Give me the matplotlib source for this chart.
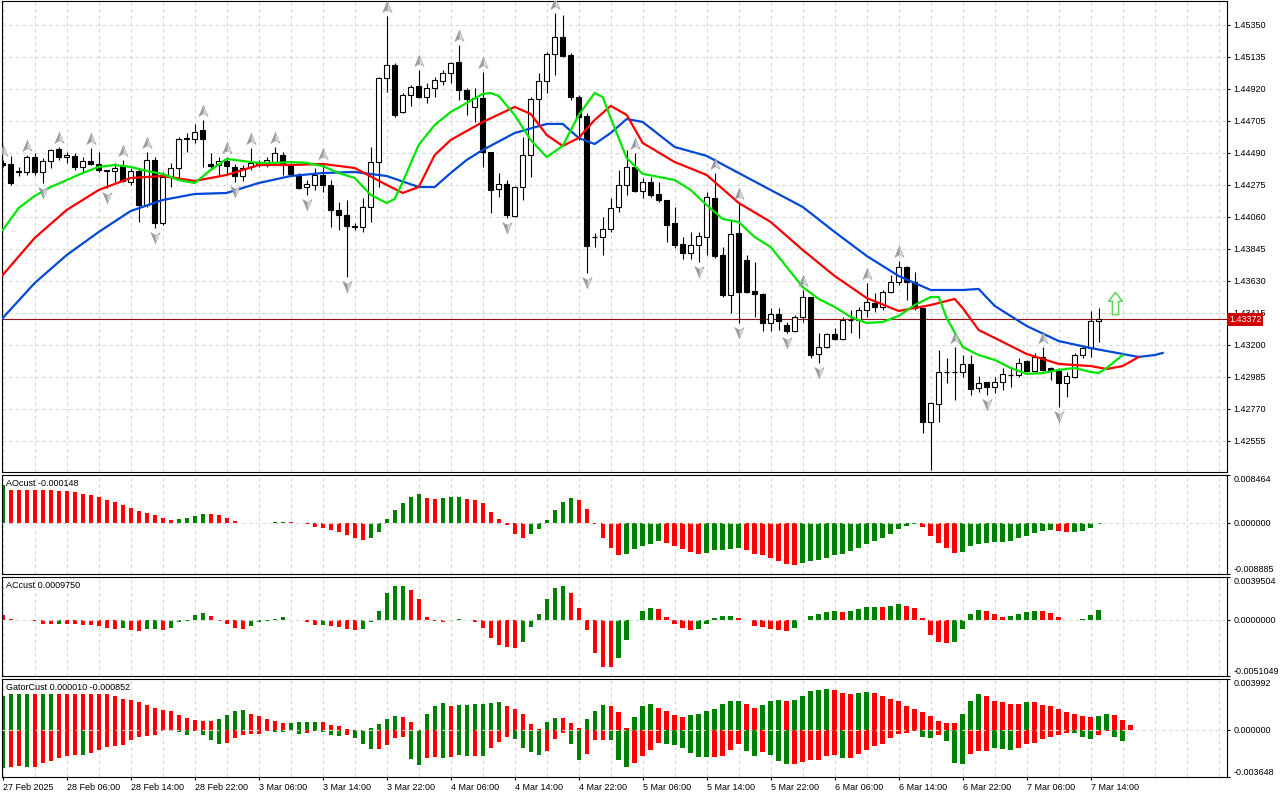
import numpy as np
import matplotlib
matplotlib.use('Agg')
import matplotlib.pyplot as plt
from matplotlib.path import Path
from matplotlib.ticker import MultipleLocator
from matplotlib.transforms import blended_transform_factory

plt.rcParams['font.family'] = ['Liberation Sans', 'DejaVu Sans']
plt.rcParams['font.size'] = 6.5

# H1 candles, 27 Feb 22:00 -> 7 Mar 15:00
opens = [1.44423, 1.44416, 1.44369, 1.44362, 1.44463, 1.44362, 1.44436, 1.44517, 1.44463, 1.44470,
         1.44396, 1.44436, 1.44416, 1.44376, 1.44369, 1.44402, 1.44295, 1.44369, 1.44140, 1.44443,
         1.44019, 1.44329, 1.44389, 1.44584, 1.44584, 1.44644, 1.44416, 1.44409, 1.44436, 1.44396,
         1.44335, 1.44396, 1.44429, 1.44409, 1.44429, 1.44476, 1.44409, 1.44342, 1.44261, 1.44275,
         1.44342, 1.44275, 1.44107, 1.44073, 1.43999, 1.43993, 1.44127, 1.44429, 1.44994, 1.45081,
         1.44765, 1.44880, 1.44940, 1.44866, 1.44927, 1.44974, 1.45027, 1.45101, 1.44913, 1.44799,
         1.44859, 1.44497, 1.44248, 1.44282, 1.44067, 1.44261, 1.44476, 1.44853, 1.44974, 1.45155,
         1.45269, 1.45148, 1.44866, 1.44738, 1.43925, 1.43925, 1.43979, 1.44127, 1.44275, 1.44396,
         1.44235, 1.44295, 1.44214, 1.44174, 1.44019, 1.43878, 1.43818, 1.43872, 1.43925, 1.44187,
         1.43804, 1.43536, 1.43952, 1.43771, 1.43562, 1.43542, 1.43347, 1.43408, 1.43334, 1.43294,
         1.43388, 1.43522, 1.43139, 1.43186, 1.43273, 1.43240, 1.43368, 1.43368, 1.43435, 1.43482,
         1.43455, 1.43556, 1.43623, 1.43724, 1.43623, 1.43448, 1.42682, 1.42803, 1.43018, 1.43018,
         1.43018, 1.43072, 1.42911, 1.42951, 1.42917, 1.42951, 1.42998, 1.42998, 1.43092, 1.43025,
         1.43119, 1.43045, 1.43025, 1.42944, 1.42985, 1.43132, 1.43179, 1.43361]
highs = [1.44443, 1.44470, 1.44396, 1.44476, 1.44490, 1.44456, 1.44517, 1.44530, 1.44497, 1.44490,
         1.44463, 1.44523, 1.44497, 1.44376, 1.44423, 1.44443, 1.44389, 1.44389, 1.44497, 1.44463,
         1.44362, 1.44423, 1.44597, 1.44624, 1.44685, 1.44712, 1.44490, 1.44463, 1.44463, 1.44416,
         1.44409, 1.44523, 1.44443, 1.44463, 1.44530, 1.44497, 1.44423, 1.44355, 1.44308, 1.44389,
         1.44423, 1.44308, 1.44161, 1.44174, 1.44019, 1.44187, 1.44530, 1.45001, 1.45410, 1.45095,
         1.44893, 1.44947, 1.45048, 1.44960, 1.45001, 1.45048, 1.45101, 1.45216, 1.44927, 1.44927,
         1.45034, 1.44497, 1.44355, 1.44308, 1.44268, 1.44597, 1.44866, 1.45027, 1.45169, 1.45431,
         1.45417, 1.45162, 1.44880, 1.44759, 1.43952, 1.44060, 1.44187, 1.44376, 1.44510, 1.44490,
         1.44322, 1.44329, 1.44295, 1.44174, 1.44127, 1.43925, 1.43959, 1.43959, 1.44228, 1.44355,
         1.43858, 1.44040, 1.44154, 1.43804, 1.43757, 1.43549, 1.43448, 1.43448, 1.43354, 1.43401,
         1.43569, 1.43522, 1.43280, 1.43280, 1.43314, 1.43388, 1.43435, 1.43455, 1.43616, 1.43549,
         1.43569, 1.43670, 1.43764, 1.43730, 1.43690, 1.43448, 1.42817, 1.43166, 1.43112, 1.43186,
         1.43132, 1.43132, 1.42991, 1.42951, 1.42985, 1.43045, 1.43052, 1.43112, 1.43099, 1.43146,
         1.43186, 1.43052, 1.43045, 1.43018, 1.43146, 1.43193, 1.43428, 1.43448]
lows = [1.44396, 1.44275, 1.44335, 1.44342, 1.44342, 1.44288, 1.44389, 1.44443, 1.44423, 1.44376,
        1.44362, 1.44409, 1.44362, 1.44255, 1.44295, 1.44295, 1.44275, 1.44026, 1.44127, 1.43986,
        1.44006, 1.44261, 1.44329, 1.44497, 1.44557, 1.44396, 1.44376, 1.44342, 1.44342, 1.44295,
        1.44302, 1.44376, 1.44396, 1.44396, 1.44409, 1.44342, 1.44342, 1.44248, 1.44208, 1.44241,
        1.44228, 1.43993, 1.43972, 1.43657, 1.43972, 1.43959, 1.44026, 1.44261, 1.44900, 1.44732,
        1.44759, 1.44806, 1.44859, 1.44826, 1.44866, 1.44947, 1.44960, 1.44846, 1.44745, 1.44698,
        1.44396, 1.44087, 1.44194, 1.44053, 1.44060, 1.44174, 1.44329, 1.44691, 1.44893, 1.45014,
        1.45135, 1.44846, 1.44577, 1.43683, 1.43858, 1.43804, 1.43959, 1.44093, 1.44208, 1.44228,
        1.44187, 1.44194, 1.44161, 1.43892, 1.43851, 1.43778, 1.43778, 1.43757, 1.43804, 1.43784,
        1.43522, 1.43415, 1.43347, 1.43549, 1.43388, 1.43294, 1.43294, 1.43300, 1.43280, 1.43287,
        1.43354, 1.43112, 1.43079, 1.43179, 1.43233, 1.43233, 1.43280, 1.43247, 1.43388, 1.43421,
        1.43435, 1.43549, 1.43603, 1.43502, 1.43435, 1.42608, 1.42360, 1.42682, 1.42944, 1.42830,
        1.42985, 1.42864, 1.42884, 1.42864, 1.42877, 1.42897, 1.42917, 1.42985, 1.43018, 1.43018,
        1.43025, 1.42964, 1.42783, 1.42850, 1.42978, 1.43112, 1.43119, 1.43220]
closes = [1.44409, 1.44288, 1.44362, 1.44463, 1.44362, 1.44436, 1.44510, 1.44463, 1.44476, 1.44396,
          1.44436, 1.44416, 1.44376, 1.44369, 1.44389, 1.44302, 1.44369, 1.44140, 1.44443, 1.44019,
          1.44329, 1.44389, 1.44584, 1.44591, 1.44631, 1.44584, 1.44402, 1.44436, 1.44402, 1.44335,
          1.44389, 1.44423, 1.44409, 1.44443, 1.44490, 1.44423, 1.44349, 1.44255, 1.44282, 1.44342,
          1.44275, 1.44107, 1.44073, 1.43999, 1.43993, 1.44127, 1.44429, 1.44994, 1.45081, 1.44745,
          1.44880, 1.44933, 1.44866, 1.44927, 1.44980, 1.45027, 1.45095, 1.44913, 1.44853, 1.44859,
          1.44497, 1.44241, 1.44282, 1.44073, 1.44261, 1.44476, 1.44853, 1.44974, 1.45155, 1.45269,
          1.45142, 1.44866, 1.44732, 1.43865, 1.43925, 1.43979, 1.44120, 1.44275, 1.44396, 1.44235,
          1.44295, 1.44208, 1.44174, 1.44006, 1.43872, 1.43818, 1.43872, 1.43932, 1.44194, 1.43798,
          1.43536, 1.43946, 1.43556, 1.43556, 1.43542, 1.43347, 1.43408, 1.43361, 1.43294, 1.43388,
          1.43522, 1.43132, 1.43186, 1.43273, 1.43240, 1.43368, 1.43368, 1.43435, 1.43489, 1.43455,
          1.43556, 1.43623, 1.43724, 1.43623, 1.43448, 1.42682, 1.42810, 1.43018, 1.43018, 1.43018,
          1.43072, 1.42904, 1.42944, 1.42917, 1.42951, 1.43005, 1.42998, 1.43079, 1.43025, 1.43119,
          1.43032, 1.43025, 1.42944, 1.42991, 1.43132, 1.43179, 1.43361, 1.43372]

# alligator lines (shifted, so they run past the last candle)
jaw_bars = [0, 4, 8, 12, 16, 20, 24, 28, 32, 36, 40, 44, 48, 52, 54, 56, 58, 60, 64, 68, 70, 72, 74, 76,
            78, 80, 84, 88, 92, 96, 100, 104, 108, 112, 116, 120, 122, 124, 128, 132, 136, 140, 142, 144, 145]
jaw = [1.43381, 1.43616, 1.43804, 1.43959, 1.44100, 1.44174, 1.44214, 1.44221, 1.44288, 1.44335,
       1.44355, 1.44362, 1.44335, 1.44261, 1.44261, 1.44355, 1.44443, 1.44510, 1.44624, 1.44685,
       1.44685, 1.44591, 1.44550, 1.44624, 1.44718, 1.44698, 1.44530, 1.44470, 1.44355, 1.44241,
       1.44127, 1.43959, 1.43798, 1.43663, 1.43569, 1.43569, 1.43576, 1.43462, 1.43327, 1.43226,
       1.43179, 1.43139, 1.43119, 1.43132, 1.43146]
teeth_bars = [0, 4, 8, 12, 16, 20, 24, 28, 32, 36, 40, 44, 48, 50, 52, 54, 56, 60, 64, 66, 68, 70, 72,
              74, 76, 78, 80, 84, 88, 92, 96, 100, 104, 108, 112, 116, 119, 120, 122, 124, 128, 132,
              136, 138, 140, 142]
teeth = [1.43670, 1.43919, 1.44107, 1.44241, 1.44322, 1.44335, 1.44302, 1.44342, 1.44409, 1.44409,
         1.44416, 1.44389, 1.44275, 1.44221, 1.44261, 1.44476, 1.44577, 1.44698, 1.44799, 1.44752,
         1.44611, 1.44537, 1.44591, 1.44712, 1.44806, 1.44745, 1.44557, 1.44429, 1.44342, 1.44154,
         1.44026, 1.43838, 1.43663, 1.43515, 1.43428, 1.43468, 1.43509, 1.43448, 1.43300, 1.43247,
         1.43139, 1.43072, 1.43058, 1.43038, 1.43058, 1.43119]
lips_bars = [0, 2, 4, 6, 8, 10, 12, 14, 16, 18, 20, 22, 24, 26, 28, 30, 32, 34, 36, 38, 40, 42, 44, 46,
             48, 49, 50, 52, 54, 56, 58, 60, 61, 62, 64, 66, 68, 70, 72, 74, 75, 76, 78, 80, 82, 84,
             86, 88, 90, 92, 94, 96, 98, 100, 102, 104, 106, 108, 110, 112, 114, 116, 117, 118, 120,
             122, 124, 126, 128, 130, 132, 134, 136, 137, 138, 140]
lips = [1.43972, 1.44120, 1.44201, 1.44261, 1.44308, 1.44355, 1.44396, 1.44409, 1.44396, 1.44369,
        1.44349, 1.44308, 1.44288, 1.44376, 1.44450, 1.44436, 1.44423, 1.44423, 1.44429, 1.44423,
        1.44402, 1.44355, 1.44322, 1.44208, 1.44154, 1.44181, 1.44295, 1.44544, 1.44678, 1.44765,
        1.44826, 1.44886, 1.44893, 1.44873, 1.44745, 1.44577, 1.44463, 1.44537, 1.44745, 1.44893,
        1.44866, 1.44725, 1.44456, 1.44349, 1.44329, 1.44308, 1.44241, 1.44140, 1.44046, 1.44026,
        1.43925, 1.43858, 1.43724, 1.43589, 1.43509, 1.43455, 1.43388, 1.43347, 1.43354, 1.43395,
        1.43468, 1.43522, 1.43522, 1.43381, 1.43186, 1.43132, 1.43099, 1.43045, 1.43005, 1.43011,
        1.43032, 1.43045, 1.43018, 1.43011, 1.43045, 1.43132]

fractal_up_bars = [0, 3, 7, 11, 15, 18, 25, 28, 31, 34, 40, 48, 52, 57, 60, 69, 79, 89, 92, 100, 108,
                   112, 119, 130]
fractal_down_bars = [5, 13, 19, 29, 38, 43, 63, 73, 87, 92, 98, 102, 116, 123, 132]
signal_bar = 139
signal_price = 1.43482

# oscillators, in units of 1e-4
ao = [66.5, 58.0, 57.9, 57.8, 57.7, 57.6, 57.5, 57.4, 57.3, 54.3,
      52.0, 50.3, 45.7, 40.5, 37.0, 31.8, 26.0, 21.4, 18.5, 14.5,
      9.2, 5.8, 7.5, 8.7, 12.7, 16.2, 15.6, 14.5, 8.7, 4.0,
      1.2, 0.6, -0.3, 0.3, 2.3, 2.4, 1.7, 0.2, -1.7, -5.8,
      -7.5, -11.6, -14.5, -20.2, -24.9, -28.9, -26.0, -15.0, 6.9, 23.1,
      36.4, 46.2, 51.4, 45.1, 43.4, 45.1, 45.4, 45.7, 43.4, 41.6,
      34.7, 20.2, 6.9, -2.9, -19.1, -26.0, -19.1, -9.8, 5.2, 22.5,
      38.1, 45.1, 41.6, 24.3, -1.2, -26.0, -43.4, -54.9, -53.8, -45.1,
      -39.9, -36.4, -31.2, -34.7, -39.9, -45.1, -50.3, -53.8, -52.0, -46.8,
      -46.2, -45.1, -43.4, -46.8, -53.8, -55.5, -60.7, -65.9, -71.1, -72.8,
      -69.4, -65.9, -64.7, -60.7, -54.9, -53.2, -48.0, -43.4, -35.8, -30.6,
      -25.4, -19.1, -9.8, -4.6, -1.7, -6.9, -22.0, -34.7, -43.4, -52.0,
      -50.3, -39.3, -35.8, -34.7, -33.5, -32.9, -30.6, -25.4, -22.0, -17.3,
      -13.3, -11.6, -13.3, -15.6, -15.0, -13.3, -8.7, -1.48]
ac = [4.5, 0.9, 0.3, 0.45, -0.6, -3.3, -3.8, -3.6, -3.8, -3.9,
      -4.5, -4.7, -5.1, -7.5, -7.7, -7.5, -9.1, -9.7, -8.2, -8.0,
      -9.1, -6.9, -2.1, -0.6, 4.5, 6.3, 3.6, -0.6, -3.6, -7.5,
      -8.2, -5.1, -2.1, -0.6, 1.5, 3.0, 0.6, 0.0, -2.1, -4.5,
      -4.4, -5.1, -6.0, -8.2, -9.1, -8.2, -2.1, 8.2, 24.5, 31.1,
      31.7, 27.5, 19.0, 3.3, -0.9, -1.2, -0.3, 1.5, 0.0, -2.1,
      -7.2, -16.3, -22.3, -24.5, -25.4, -19.9, -6.3, 5.4, 19.0, 29.0,
      31.4, 24.5, 10.9, -8.8, -29.9, -42.6, -42.9, -34.4, -17.8, 0.1,
      8.5, 10.9, 10.0, 2.7, -3.3, -7.2, -8.8, -8.5, -3.3, 2.4,
      3.6, 3.8, 2.4, 0.0, -5.1, -6.3, -8.2, -8.8, -9.7, -7.2,
      0.1, 3.6, 5.4, 7.2, 8.2, 7.2, 8.2, 10.0, 11.8, 11.9,
      11.8, 12.7, 14.5, 12.7, 10.9, 1.8, -13.6, -19.9, -20.8, -19.9,
      -8.2, 5.4, 9.1, 8.2, 5.4, 2.7, 3.6, 5.4, 7.2, 8.2,
      8.0, 6.3, 2.7, 0.0, 0.15, 0.9, 4.5, 9.75]
gator_up = [27.0, 28.3, 28.3, 28.3, 28.3, 28.3, 28.3, 28.3, 28.3, 28.3,
            28.3, 28.3, 28.3, 28.3, 26.5, 24.4, 23.6, 21.8, 19.8, 17.7,
            15.4, 14.6, 11.6, 9.8, 8.2, 6.9, 6.9, 8.5, 12.1, 14.6,
            15.4, 12.9, 10.8, 8.5, 6.9, 5.9, 5.9, 6.2, 6.2, 6.4,
            6.2, 4.4, 3.1, 0.8, 0.1, 0.3, 2.1, 4.6, 9.0, 10.8,
            10.5, 6.7, 0.3, 12.3, 19.0, 21.3, 19.0, 20.0, 20.0, 20.8,
            20.8, 21.3, 22.1, 19.0, 16.2, 12.3, 4.6, 0.8, 6.7, 9.8,
            9.8, 5.4, 1.5, 8.5, 15.2, 20.0, 19.0, 13.9, 1.5, 10.5,
            19.0, 20.8, 17.5, 14.6, 11.6, 10.5, 11.6, 12.3, 14.6, 16.7,
            20.8, 22.4, 22.9, 20.8, 17.5, 20.0, 22.4, 23.9, 22.9, 23.9,
            27.0, 30.8, 31.4, 32.4, 31.6, 29.3, 28.5, 29.3, 30.1, 29.3,
            27.0, 24.7, 22.4, 18.5, 16.2, 13.9, 10.8, 6.9, 5.4, 5.4,
            12.3, 23.1, 28.5, 27.0, 23.1, 21.6, 20.8, 20.8, 21.6, 21.6,
            20.0, 18.5, 16.2, 13.9, 12.3, 10.8, 10.5, 11.3, 12.6, 11.6,
            7.7, 3.9, 0.1]
gator_down = [-29.6, -29.0, -27.8, -29.0, -28.3, -25.7, -23.9, -21.8, -19.8, -19.3,
              -19.4, -17.5, -15.4, -12.9, -12.1, -11.6, -7.7, -5.1, -4.6, -3.9,
              -0.3, -0.8, -1.3, -3.9, -0.8, -3.9, -7.7, -10.8, -9.8, -6.4,
              -3.9, -3.1, -2.6, -0.8, -1.3, -1.4, -0.8, -3.1, -2.1, -0.8,
              -1.3, -3.9, -4.6, -3.9, -6.4, -10.8, -14.6, -14.4, -11.6, -5.9,
              -5.1, -22.4, -27.0, -21.6, -20.8, -21.6, -20.8, -19.5, -19.8, -19.8,
              -19.8, -13.9, -9.3, -5.4, -6.9, -13.9, -17.0, -19.3, -16.2, -6.9,
              -2.1, -10.8, -23.1, -18.5, -7.7, -7.7, -7.7, -23.1, -28.5, -25.2,
              -20.0, -15.4, -10.3, -10.8, -11.6, -14.1, -17.5, -20.8, -20.8, -20.8,
              -20.0, -15.4, -10.5, -16.2, -20.0, -17.0, -19.3, -23.9, -26.2, -26.0,
              -24.4, -23.6, -23.6, -19.8, -19.0, -21.6, -21.6, -18.5, -15.2, -12.1,
              -10.5, -6.2, -2.8, -1.8, -1.0, -5.4, -5.9, -3.6, -8.2, -25.2,
              -26.0, -18.5, -15.9, -15.9, -13.9, -14.6, -15.4, -13.9, -10.8, -10.0,
              -6.9, -5.4, -3.9, -2.3, -2.4, -5.4, -6.9, -3.6, -0.3, -5.4,
              -8.52]
gator_up_colors = ("ggggrggrrr" "rrrrrrrrrr" "rrrrrrrggg" "grrrrrgggg" "rrrrrggggg"
                   "rrrgggrggg" "gggrrrrrgg" "rrrgggrrrg" "ggrrrrgggg" "gggrrgggrg"
                   "ggggrrrggr" "rrrrrrrrrr" "gggrrrrrgr" "rrrrrrrggr" "rrr")
gator_down_colors = ("grrgrrrrrr" "grrrrrrrrr" "rgggrgggrr" "rrrrggrgrg" "gggrgggrrr"
                     "rggrrgrggr" "grrrggggrr" "rggrrrgggr" "rrrggggggr" "rrrggrgggr"
                     "rrrrrgrrrr" "rrrrrggrgg" "grrrgggrrr" "rrrrgggrrg" "g")

time_labels = ['27 Feb 2025', '28 Feb 06:00', '28 Feb 14:00', '28 Feb 22:00', '3 Mar 06:00',
               '3 Mar 14:00', '3 Mar 22:00', '4 Mar 06:00', '4 Mar 14:00', '4 Mar 22:00',
               '5 Mar 06:00', '5 Mar 14:00', '5 Mar 22:00', '6 Mar 06:00', '6 Mar 14:00',
               '6 Mar 22:00', '7 Mar 06:00', '7 Mar 14:00']
price_ticks = [1.45350, 1.45135, 1.44920, 1.44705, 1.44490, 1.44275, 1.44060, 1.43845,
               1.43630, 1.43415, 1.43200, 1.42985, 1.42770, 1.42555]
price_range = (1.42346, 1.45511)
ao_range = (-0.008885, 0.008464)
ac_range = (-0.0051049, 0.0039504)
gator_range = (-0.003648, 0.003992)

GREEN = '#008000'
RED = '#ff0000'
GRID = '#d6d6d6'
DASH = (0, (3, 3))

W, H = 1280, 800
fig = plt.figure(figsize=(W / 100, H / 100), dpi=100)


def panel(x0, y0, x1, y1):
    return fig.add_axes([x0 / W, 1 - y1 / H, (x1 - x0) / W, (y1 - y0) / H])


ax = panel(2, 1, 1227, 472)
ax_ao = panel(2, 475, 1227, 574)
ax_ac = panel(2, 577, 1227, 676)
ax_g = panel(2, 679, 1227, 777)

for a in (ax, ax_ao, ax_ac, ax_g):
    a.set_xlim(-0.09, 153.04)
    a.xaxis.set_minor_locator(MultipleLocator(4))
    a.set_xticks(np.arange(0, 137, 8))
    a.grid(axis='x', which='both', color=GRID, ls=DASH, lw=0.8)
    a.set_axisbelow(True)
    a.yaxis.tick_right()
    a.tick_params(axis='x', which='both', length=0, labelbottom=False)
    a.tick_params(axis='y', length=2.5, width=0.8, pad=2, labelsize=6.5)
    for s in a.spines.values():
        s.set_linewidth(0.8)
        s.set_color('black')

# ---- main chart ----
o = np.array(opens)
h = np.array(highs)
l = np.array(lows)
c = np.array(closes)
x = np.arange(len(c))
bull = c >= o
body = np.abs(c - o)
doji = body < 0.00002

ax.vlines(x, l, h, color='black', lw=0.8, zorder=3)
ax.bar(x[~doji], body[~doji], bottom=np.minimum(o, c)[~doji], width=0.58,
       color=np.where(bull, 'white', 'black')[~doji], edgecolor='black', lw=0.8, zorder=4)
ax.hlines(c[doji], x[doji] - 0.3, x[doji] + 0.3, color='black', lw=0.9, zorder=4)

ax.plot(jaw_bars, jaw, color='#0048d8', lw=1.6, zorder=5)
ax.plot(teeth_bars, teeth, color='#ff0000', lw=1.6, zorder=5)
ax.plot(lips_bars, lips, color='#00e600', lw=1.6, zorder=5)

# fractal arrows (two-tone arrowheads)
half_l = Path([(0, 1), (-0.75, -0.8), (0, -0.35), (0, 1)],
              [Path.MOVETO, Path.LINETO, Path.LINETO, Path.CLOSEPOLY])
half_r = Path([(0, 1), (0.75, -0.8), (0, -0.35), (0, 1)],
              [Path.MOVETO, Path.LINETO, Path.LINETO, Path.CLOSEPOLY])
flip = lambda p: Path(p.vertices * [1, -1], p.codes)
off = 0.00058
ub = np.array(fractal_up_bars)
db = np.array(fractal_down_bars)
for mk, col in ((half_l, '#9c9ca6'), (half_r, '#d9d9e0')):
    ax.plot(ub, h[ub] + off, ls='none', marker=mk, ms=9, mfc=col, mec='#8a8a92', mew=0.3, zorder=6)
    ax.plot(db, l[db] - off, ls='none', marker=flip(mk), ms=9, mfc=col, mec='#8a8a92', mew=0.3, zorder=6)

block_up = Path([(0, 1), (0.62, 0.2), (0.28, 0.2), (0.28, -1), (-0.28, -1), (-0.28, 0.2),
                 (-0.62, 0.2), (0, 1)],
                [Path.MOVETO] + [Path.LINETO] * 6 + [Path.CLOSEPOLY])
ax.plot([signal_bar], [signal_price], ls='none', marker=block_up, ms=16, mfc='#fbfff0',
        mec='#5fd35f', mew=1.1, zorder=6)

# current price
last = closes[-1]
ax.axhline(last, color='#9a1010', lw=0.8, zorder=2)
ax.set_ylim(*price_range)
ax.set_yticks(price_ticks)
ax.set_yticklabels([f'{p:.5f}' for p in price_ticks])
ax.grid(axis='y', color=GRID, ls=DASH, lw=0.8)
ax.text(1.0015, last, f'{last:.5f}', transform=blended_transform_factory(ax.transAxes, ax.transData),
        ha='left', va='center', color='white', fontsize=6.5, zorder=10, clip_on=False,
        bbox=dict(boxstyle='square,pad=0.22', fc='#d00000', ec='none'))


# ---- oscillators ----
def setup_osc(a, rng, fmt, title):
    a.set_ylim(*rng)
    ticks = [rng[0], 0.0, rng[1]]
    a.set_yticks(ticks)
    a.set_yticklabels([fmt % t for t in ticks])
    for lab, va in zip(a.get_yticklabels(), ('bottom', 'center', 'top')):
        lab.set_verticalalignment(va)
    a.axhline(0, color='#dcdcdc', ls=DASH, lw=0.8, zorder=3)
    a.text(0.0035, 0.955, title, transform=a.transAxes, ha='left', va='top', fontsize=6.5, zorder=6)


def rising_colors(vals, first):
    cols = [first]
    for i in range(1, len(vals)):
        cols.append(GREEN if vals[i] > vals[i - 1] else RED)
    return cols


ao_v = np.array(ao) * 1e-4
ax_ao.bar(np.arange(len(ao_v)), ao_v, width=0.55, color=rising_colors(ao_v, GREEN), lw=0, zorder=2)
setup_osc(ax_ao, ao_range, '%.6f', f'AOcust {ao_v[-1]:.6f}')

ac_v = np.array(ac) * 1e-4
ax_ac.bar(np.arange(len(ac_v)), ac_v, width=0.55, color=rising_colors(ac_v, RED), lw=0, zorder=2)
setup_osc(ax_ac, ac_range, '%.7f', f'ACcust {ac_v[-1]:.7f}')

cmap = {'g': GREEN, 'r': RED}
gu = np.array(gator_up) * 1e-4
gd = np.array(gator_down) * 1e-4
ax_g.bar(np.arange(len(gu)), gu, width=0.55, color=[cmap[k] for k in gator_up_colors], lw=0, zorder=2)
ax_g.bar(np.arange(len(gd)), gd, width=0.55, color=[cmap[k] for k in gator_down_colors], lw=0, zorder=2)
setup_osc(ax_g, gator_range, '%.6f', f'GatorCust {gu[-1]:.6f} {gd[-1]:.6f}')

ax_g.tick_params(axis='x', which='major', length=2.5, width=0.8, pad=2, labelbottom=True, labelsize=6.5)
ax_g.set_xticklabels(time_labels, ha='left')

fig.savefig('out.png', dpi=100, facecolor='white')
